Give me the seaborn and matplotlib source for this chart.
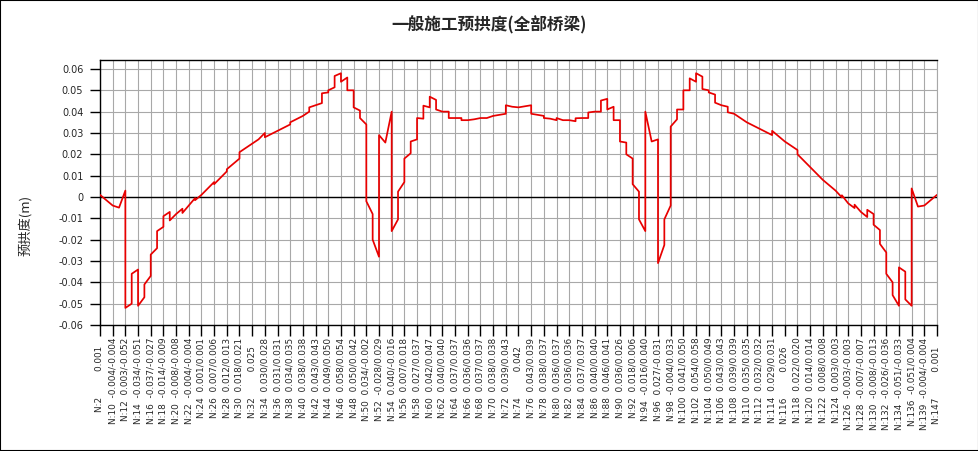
import numpy as np
import pandas as pd
import matplotlib
matplotlib.use("Agg")
import matplotlib.pyplot as plt
import seaborn as sns
from matplotlib.patches import Rectangle

# ---------------- data ----------------
title = "一般施工预拱度(全部桥梁)"
y_label = "预拱度(m)"

nodes = ["N:2", "N:10", "N:12", "N:14", "N:16", "N:18", "N:20", "N:22", "N:24", "N:26",
         "N:28", "N:30", "N:32", "N:34", "N:36", "N:38", "N:40", "N:42", "N:44", "N:46",
         "N:48", "N:50", "N:52", "N:54", "N:56", "N:58", "N:60", "N:62", "N:64", "N:66",
         "N:68", "N:70", "N:72", "N:74", "N:76", "N:78", "N:80", "N:82", "N:84", "N:86",
         "N:88", "N:90", "N:92", "N:94", "N:96", "N:98", "N:100", "N:102", "N:104", "N:106",
         "N:108", "N:110", "N:112", "N:114", "N:116", "N:118", "N:120", "N:122", "N:124", "N:126",
         "N:128", "N:130", "N:132", "N:134", "N:136", "N:139", "N:147"]

# value just left / just right of each labelled node
node_left = [0.001, -0.004, 0.003, -0.034, -0.037, -0.014, -0.008, -0.004, 0.001, 0.007,
             0.012, 0.018, 0.025, 0.030, 0.031, 0.034, 0.038, 0.043, 0.049, 0.058,
             0.050, 0.034, -0.028, 0.040, 0.007, 0.027, 0.042, 0.040, 0.037, 0.036,
             0.037, 0.038, 0.039, 0.042, 0.043, 0.038, 0.036, 0.036, 0.037, 0.040,
             0.046, 0.036, 0.018, -0.016, 0.027, -0.004, 0.041, 0.054, 0.050, 0.043,
             0.039, 0.035, 0.032, 0.029, 0.026, 0.022, 0.014, 0.008, 0.003, -0.003,
             -0.007, -0.008, -0.026, -0.051, -0.051, -0.004, 0.001]
node_right = [0.001, -0.004, -0.052, -0.051, -0.027, -0.009, -0.008, -0.004, 0.001, 0.006,
              0.013, 0.021, 0.025, 0.028, 0.031, 0.035, 0.038, 0.043, 0.050, 0.054,
              0.042, -0.002, 0.029, -0.016, 0.018, 0.037, 0.047, 0.040, 0.037, 0.036,
              0.037, 0.038, 0.043, 0.042, 0.039, 0.037, 0.037, 0.036, 0.037, 0.040,
              0.041, 0.026, 0.006, 0.040, -0.031, 0.033, 0.050, 0.058, 0.049, 0.043,
              0.039, 0.035, 0.032, 0.031, 0.026, 0.020, 0.014, 0.008, 0.003, -0.003,
              -0.007, -0.013, -0.036, -0.033, 0.004, -0.004, 0.001]
single_value_nodes = ["N:2", "N:32", "N:74", "N:116", "N:147"]

# intermediate (unlabelled) nodes between consecutive labelled nodes
mid_left = [-0.0015, -0.005, -0.050, -0.047, -0.024, -0.007, -0.0055, -0.0005, 0.004, 0.009,
            0.0155, 0.023, 0.027, 0.0295, 0.0325, 0.0365, 0.040, 0.044, 0.0514, 0.056,
            0.0405, -0.008, 0.0255, -0.0105, 0.0205, 0.0367, 0.0455, 0.040, 0.037, 0.0364,
            0.037, 0.0385, 0.0423, 0.0425, 0.0385, 0.0367, 0.036, 0.0355, 0.037, 0.040,
            0.0423, 0.0255, 0.0025, 0.026, -0.0225, 0.0364, 0.050, 0.0564, 0.048, 0.0423,
            0.037, 0.0335, 0.0305, 0.0285, 0.024, 0.017, 0.011, 0.0055, -0.0002, -0.0052,
            -0.0094, -0.0155, -0.040, -0.035, -0.0045, -0.0015]
mid_right = [-0.0015, -0.005, -0.036, -0.041, -0.016, -0.011, -0.0075, -0.0015, 0.004, 0.009,
             0.0155, 0.023, 0.027, 0.0295, 0.0325, 0.0365, 0.042, 0.0486, 0.0567, 0.050,
             0.037, -0.020, 0.0255, 0.0025, 0.026, 0.0428, 0.041, 0.037, 0.036, 0.0364,
             0.037, 0.0385, 0.0423, 0.0425, 0.0385, 0.0367, 0.036, 0.0369, 0.0396, 0.0452,
             0.036, 0.020, -0.0105, 0.026, -0.0105, 0.041, 0.0556, 0.0506, 0.0442, 0.0397,
             0.037, 0.0335, 0.0305, 0.0285, 0.024, 0.017, 0.011, 0.0055, 0.0008, -0.0036,
             -0.006, -0.022, -0.046, -0.048, -0.0045, -0.0015]

y_ticks = [-0.06, -0.05, -0.04, -0.03, -0.02, -0.01, 0.0, 0.01, 0.02, 0.03, 0.04, 0.05, 0.06]
y_tick_labels = ["-0.06", "-0.05", "-0.04", "-0.03", "-0.02", "-0.01", "0",
                 "0.01", "0.02", "0.03", "0.04", "0.05", "0.06"]

# ---------------- build line ----------------
pos, val = [], []
for i in range(len(nodes)):
    pos += [i, i]
    val += [node_left[i], node_right[i]]
    if i < len(nodes) - 1:
        pos += [i + 0.5, i + 0.5]
        val += [mid_left[i], mid_right[i]]
df = pd.DataFrame({"pos": pos, "value": val})

def tick_text(n, l, r):
    if n in single_value_nodes:
        return f"{n}" + " " * 9 + f"{l:.3f}" + " " * 3
    return f"{n}  {l:.3f}/{r:.3f}"

x_tick_labels = [tick_text(n, l, r) for n, l, r in zip(nodes, node_left, node_right)]

# ---------------- plot ----------------
sns.set_theme(style="white")
plt.rcParams["font.family"] = ["Noto Sans CJK SC", "DejaVu Sans"]

fig = plt.figure(figsize=(9.79, 4.51), dpi=100)
ax = fig.add_axes([100 / 979, 1 - 325 / 451, 837 / 979, 265 / 451])

sns.lineplot(data=df, x="pos", y="value", sort=False, estimator=None, errorbar=None,
             color="#e80000", lw=1.25, ax=ax, zorder=4)

ax.set_xlim(0, len(nodes) - 1)
ax.set_ylim(-0.06, 0.0642)
ax.set_xticks(range(len(nodes)))
ax.set_xticklabels(x_tick_labels, rotation=90, va="top", ha="center",
                   fontsize=6.4, family="DejaVu Sans")
ax.set_yticks(y_ticks)
ax.set_yticklabels(y_tick_labels, fontsize=7, family="DejaVu Sans")
ax.tick_params(axis="x", direction="out", length=8, width=1, color="black", pad=1,
               bottom=True)
ax.tick_params(axis="y", direction="out", length=7, width=1, color="black", pad=5,
               left=True)
ax.grid(True, color="#a8a8a8", lw=0.8, zorder=0)
ax.axhline(0, color="black", lw=1.0, zorder=3)
ax.set_xlabel("")
ax.set_ylabel("")
for s in ["left", "bottom", "top"]:
    ax.spines[s].set_color("black")
    ax.spines[s].set_linewidth(1)
ax.spines["right"].set_color("#a8a8a8")
ax.spines["right"].set_linewidth(0.8)

fig.text(0.5, 1 - 25 / 451, title, ha="center", va="center", fontsize=12,
         fontweight="bold")
fig.text(25 / 979, 1 - 225 / 451, y_label, ha="center", va="center", rotation=90,
         fontsize=9.5)
fig.patches.append(Rectangle((0, 0), 1, 1, transform=fig.transFigure, fill=False,
                             edgecolor="black", lw=1.5))

fig.savefig("out.png", dpi=100)
